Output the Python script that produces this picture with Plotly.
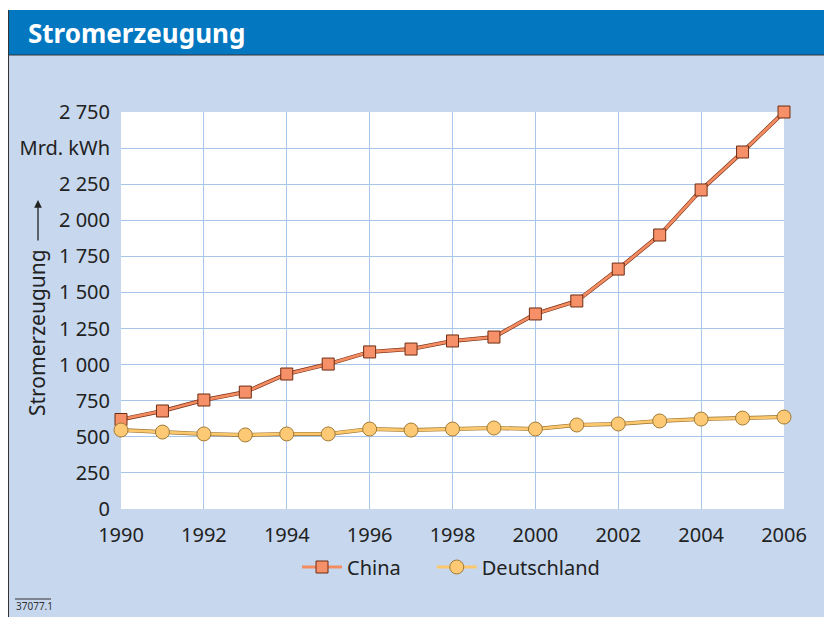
import plotly.graph_objects as go

years = list(range(1990, 2007))
china = [620, 679, 755, 810, 935, 1004, 1088, 1108, 1164, 1191, 1351, 1441, 1662, 1898, 2210, 2473, 2750]
deutschland = [547, 533, 520, 513, 520, 520, 554, 547, 554, 561, 554, 582, 589, 610, 623, 630, 637]
y_tickvals = [0, 250, 500, 750, 1000, 1250, 1500, 1750, 2000, 2250, 2500, 2750]
y_ticktext = ["0", "250", "500", "750", "1 000", "1 250", "1 500", "1 750", "2 000", "2 250", "Mrd. kWh", "2 750"]
x_tickvals = [1990, 1992, 1994, 1996, 1998, 2000, 2002, 2004, 2006]

# page body has an 8px margin: figure placed at (8, 8)
OFF = 8
W, H = 832 - OFF, 617 - OFF
# plot area in screenshot pixel coordinates
L, R, T, B = 121, 784, 112, 509
pw, ph = R - L, B - T

def px(x):
    return (x - L) / pw

def py(y):
    return (B - y) / ph

FONT = "Noto Sans"
BG = "#c7d8ee"
BLUE = "#0477c1"
NB = "\u00a0"

fig = go.Figure()

fig.add_trace(go.Scatter(x=years, y=china, mode="lines", line=dict(color="#7a2f14", width=4),
                         showlegend=False, hoverinfo="skip", cliponaxis=False))
fig.add_trace(go.Scatter(x=years, y=china, mode="lines+markers", name="China" + NB * 5,
                         line=dict(color="#f48c62", width=2.8),
                         marker=dict(symbol="square", size=12, color="#f59068",
                                     line=dict(color="#6e2c12", width=1)),
                         cliponaxis=False))
fig.add_trace(go.Scatter(x=years, y=deutschland, mode="lines", line=dict(color="#9a7030", width=4),
                         showlegend=False, hoverinfo="skip", cliponaxis=False))
fig.add_trace(go.Scatter(x=years, y=deutschland, mode="lines+markers", name="Deutschland",
                         line=dict(color="#fcc86e", width=2.8),
                         marker=dict(symbol="circle", size=14, color="#fdc974",
                                     line=dict(color="#a07a36", width=1)),
                         cliponaxis=False))

shapes = [
    dict(type="rect", xref="paper", yref="paper", x0=px(8), x1=px(832), y0=py(8), y1=py(10),
         fillcolor="white", line=dict(width=0), layer="above"),
    dict(type="rect", xref="paper", yref="paper", x0=px(8), x1=px(832), y0=py(10), y1=py(55),
         fillcolor=BLUE, line=dict(width=0), layer="above"),
    dict(type="line", xref="paper", yref="paper", x0=px(8), x1=px(832), y0=py(55), y1=py(55),
         line=dict(color="#333333", width=1), layer="above"),
    dict(type="line", xref="paper", yref="paper", x0=px(8.5), x1=px(8.5), y0=py(10), y1=py(617),
         line=dict(color="#333333", width=1), layer="above"),
    dict(type="line", xref="paper", yref="paper", x0=px(15), x1=px(51), y0=py(599), y1=py(599),
         line=dict(color="#333333", width=1), layer="above"),
]

annotations = [
    dict(text="<b>Stromerzeugung</b>", xref="paper", yref="paper", x=px(26), y=py(33),
         xanchor="left", yanchor="middle", showarrow=False,
         font=dict(family=FONT, size=26, color="white")),
    dict(text="Stromerzeugung", xref="paper", yref="paper", x=px(37), y=py(333),
         xanchor="center", yanchor="middle", showarrow=False, textangle=-90,
         font=dict(family=FONT, size=21, color="#222222")),
    dict(text="", xref="paper", yref="paper", x=px(38), y=py(200), ax=0, ay=42,
         showarrow=True, arrowhead=2, arrowsize=1.2, arrowwidth=1.3, arrowcolor="#222222"),
    dict(text="37077.1", xref="paper", yref="paper", x=px(14), y=py(606),
         xanchor="left", yanchor="middle", showarrow=False,
         font=dict(family=FONT, size=10, color="#333333")),
]

fig.update_layout(
    width=W, height=H,
    margin=dict(l=L - OFF, r=832 - R, t=T - OFF, b=617 - B, pad=0),
    paper_bgcolor=BG, plot_bgcolor="white",
    font=dict(family=FONT, size=20, color="#222222"),
    shapes=shapes, annotations=annotations,
    legend=dict(orientation="h", x=px(451), y=py(567), xanchor="center", yanchor="middle",
                bgcolor="rgba(0,0,0,0)", font=dict(family=FONT, size=20, color="#222222"),
                traceorder="normal", itemwidth=40),
    xaxis=dict(range=[1990, 2006], tickvals=x_tickvals, ticktext=[str(v) for v in x_tickvals],
               showgrid=True, gridcolor="#a9c6ea", gridwidth=1, zeroline=False, showline=False,
               ticks="outside", ticklen=8, tickcolor="rgba(0,0,0,0)", tickfont=dict(size=20)),
    yaxis=dict(range=[0, 2750], tickvals=y_tickvals, ticktext=y_ticktext,
               showgrid=True, gridcolor="#a9c6ea", gridwidth=1, zeroline=False, showline=False,
               ticks="outside", ticklen=6, tickcolor="rgba(0,0,0,0)", tickfont=dict(size=20)),
)

fig.write_html("out.html")
